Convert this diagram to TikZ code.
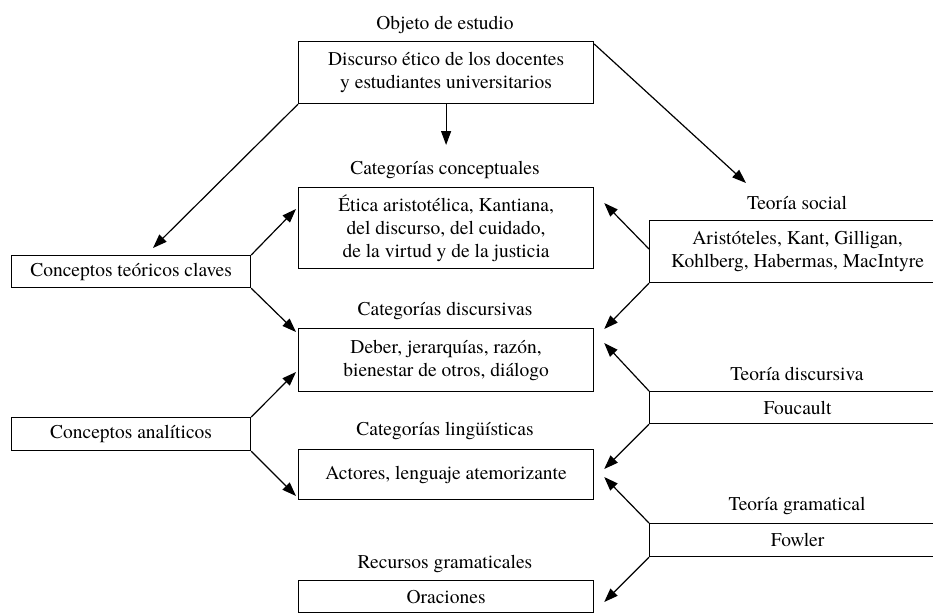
\documentclass[tikz,border=0pt]{standalone}
\usepackage{fontspec}
\setmainfont{texgyretermes}[Extension=.otf,UprightFont=*-regular,BoldFont=*-bold,ItalicFont=*-italic,BoldItalicFont=*-bolditalic]
\usetikzlibrary{arrows.meta,calc}
\begin{document}
\begin{tikzpicture}[x=1pt,y=-1pt,
  font=\fontsize{19.5}{23}\selectfont,
  box/.style={draw,line width=1.2pt,inner sep=0pt,align=center,anchor=north west,minimum width=295pt},
  ttl/.style={inner sep=0pt},
  arr/.style={line width=1.2pt,-{Triangle[length=14pt,width=10pt]}}]
\useasboundingbox (0,0) rectangle (933,613);
% boxes
\node[box,minimum height=62pt] (obj) at (298,41) {Discurso ético de los docentes\\y estudiantes universitarios};
\node[box,minimum height=81pt] (eti) at (298,187) {Ética aristotélica, Kantiana,\\del discurso, del cuidado,\\de la virtud y de la justicia};
\node[box,minimum height=63pt] (dis) at (298,328) {Deber, jerarquías, razón,\\bienestar de otros, diálogo};
\node[box,minimum height=50pt] (lin) at (298,449) {Actores, lenguaje atemorizante};
\node[box,minimum height=32pt] (ora) at (298,580) {Oraciones};
\node[box,minimum width=239pt,minimum height=32pt] (ctc) at (11,255) {Conceptos teóricos claves};
\node[box,minimum width=239pt,minimum height=33pt] (ca) at (11,417) {Conceptos analíticos};
\node[box,minimum width=296pt,minimum height=62pt] (ts) at (649,220) {Aristóteles, Kant, Gilligan,\\Kohlberg, Habermas, MacIntyre};
\node[box,minimum width=296pt,minimum height=32pt] (fou) at (649,391) {Foucault};
\node[box,minimum width=296pt,minimum height=33pt] (fow) at (649,523) {Fowler};
% titles
\node[ttl] (tobj) at (445,25) {Objeto de estudio};
\node[ttl] (teti) at (445,170) {Categorías conceptuales};
\node[ttl] (tdis) at (445,311) {Categorías discursivas};
\node[ttl] (tlin) at (445,431) {Categorías lingüísticas};
\node[ttl] (tora) at (445,564) {Recursos gramaticales};
\node[ttl] (tts) at (797,203) {Teoría social};
\node[ttl] (tfou) at (797,374) {Teoría discursiva};
\node[ttl] (tfow) at (797,506) {Teoría gramatical};
% arrows
\draw[arr] (obj.south) -- ($(eti.north)+(0,-42)$);
\draw[arr] (obj.south west) -- ($(ctc.north west)+(142,-7)$);
\draw[arr] ($(obj.north east)+(0,3)$) -- ($(ts.north west)+(97,-37)$);
\draw[arr] (ctc.north east) -- ($(eti.north west)+(-2,22)$);
\draw[arr] (ctc.south east) -- ($(dis.north west)+(-2,4)$);
\draw[arr] ($(ts.north west)+(0,29)$) -- ($(eti.north east)+(10,16)$);
\draw[arr] (ts.south west) -- ($(dis.north east)+(10,1)$);
\draw[arr] (ca.north east) -- ($(dis.north west)+(-2,44)$);
\draw[arr] (ca.south east) -- ($(lin.north west)+(-2,47)$);
\draw[arr] (fou.north west) -- ($(dis.north east)+(10,15)$);
\draw[arr] (fou.south west) -- ($(lin.north east)+(10,20)$);
\draw[arr] (fow.north west) -- ($(lin.north east)+(10,28)$);
\draw[arr] (fow.south west) -- ($(ora.north east)+(10,22)$);
\end{tikzpicture}
\end{document}
